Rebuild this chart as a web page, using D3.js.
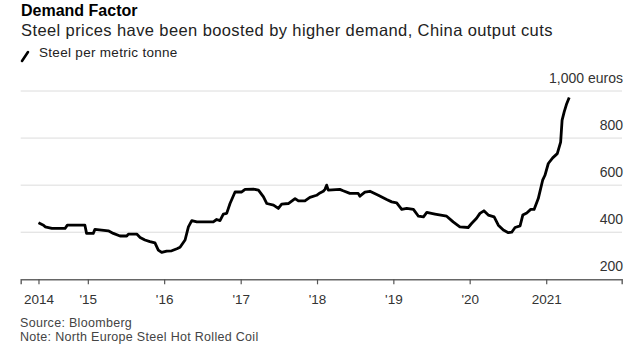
<!DOCTYPE html>
<html>
<head>
<meta charset="utf-8">
<script src="https://cdn.jsdelivr.net/npm/d3@7"></script>
<style>
  body { margin: 0; background: #fff; }
  svg { font-family: "Liberation Sans", Arial, sans-serif; display: block; }
  .grid line { stroke: #dcdcdc; stroke-width: 1; }
  .ylab { fill: #333; font-size: 14px; }
  .xaxis text { fill: #333; font-size: 13.5px; }
  .note { fill: #444; font-size: 12.5px; letter-spacing: 0.3px; }
</style>
</head>
<body>
<script>
// weekly-ish price points (euros per metric tonne)
const dates = ['2014-05-10','2014-06-03','2014-06-11','2014-07-13','2014-09-14','2014-09-25','2014-12-18','2014-12-26',
  '2015-01-27','2015-02-04','2015-03-08','2015-04-09','2015-05-03','2015-06-04','2015-07-06','2015-07-14','2015-08-23',
  '2015-09-08','2015-10-01','2015-10-25','2015-11-18','2015-12-04','2015-12-20',
  '2016-01-13','2016-02-06','2016-03-02','2016-03-17','2016-04-10','2016-04-26','2016-05-12','2016-06-05','2016-08-23',
  '2016-09-08','2016-09-24','2016-10-10','2016-10-26','2016-11-11','2016-12-05',
  '2017-01-06','2017-01-22','2017-03-03','2017-03-27','2017-04-20','2017-05-06','2017-06-07','2017-06-30','2017-07-16',
  '2017-08-17','2017-09-18','2017-10-04','2017-11-04','2017-11-28','2017-12-30',
  '2018-01-15','2018-01-31','2018-02-08','2018-02-16','2018-02-24','2018-04-20','2018-05-06','2018-06-07','2018-07-17',
  '2018-07-25','2018-08-18','2018-09-11','2018-10-21','2018-11-30','2018-12-24',
  '2019-01-17','2019-02-10','2019-03-06','2019-04-07','2019-05-01','2019-05-25','2019-06-10','2019-07-19','2019-09-13',
  '2019-10-14','2019-11-15','2019-12-25',
  '2020-01-10','2020-02-03','2020-02-19','2020-03-09','2020-03-30','2020-04-27','2020-05-17','2020-06-10','2020-07-04',
  '2020-07-20','2020-08-05','2020-08-29','2020-09-11','2020-09-30','2020-10-19','2020-11-04','2020-11-24','2020-12-15',
  '2020-12-26',
  '2021-01-11','2021-02-01','2021-02-23','2021-03-11','2021-03-18','2021-03-28','2021-04-09','2021-04-21']
const prices = [440,430,423,416,416,430,430,395,
  395,412,409,406,395,384,384,392,392,
  378,367,360,355,324,314,
  320,321,330,336,367,423,449,444,444,
  454,449,477,480,522,571,
  571,582,583,579,550,522,515,501,519,
  522,543,533,533,548,557,
  567,574,582,600,579,582,576,565,565,
  553,570,574,557,539,529,
  525,497,501,497,468,465,484,477,468,
  444,423,420,
  437,459,480,491,473,465,430,409,398,
  400,420,427,473,482,497,497,543,621,
  642,
  692,716,734,783,876,911,946,972]

const yTicks = [200, 400, 600, 800, 1000]
const xTickDates = ['2014-05-10','2015-01-01','2016-01-01','2017-01-01','2018-01-01','2019-01-01','2020-01-01','2021-01-01']
const xTickLabels = ['2014', "'15", "'16", "'17", "'18", "'19", "'20", '2021']

const width = 640
const height = 354
const parse = d3.timeParse('%Y-%m-%d')
const data = dates.map((d, i) => ({ date: parse(d), value: prices[i] }))

const x = d3.scaleTime()
  .domain([parse('2014-02-14'), parse('2021-12-28')])
  .range([20.7, 621.7])

const y = d3.scaleLinear()
  .domain([200, 1000])
  .range([279.3, 91])

const svg = d3.select('body')
  .append('svg')
  .attr('width', width)
  .attr('height', height)

// header
svg.append('text')
  .attr('x', 21).attr('y', 16)
  .style('font-size', '16px').style('font-weight', 'bold').attr('fill', '#000')
  .text('Demand Factor')

svg.append('text')
  .attr('x', 21).attr('y', 36)
  .style('font-size', '16.5px').style('letter-spacing', '0.4px').attr('fill', '#222')
  .text('Steel prices have been boosted by higher demand, China output cuts')

svg.append('line')
  .attr('x1', 22).attr('y1', 61).attr('x2', 28).attr('y2', 52)
  .attr('stroke', '#000').attr('stroke-width', 2.6).attr('stroke-linecap', 'round')

svg.append('text')
  .attr('x', 39).attr('y', 57)
  .style('font-size', '13.5px').style('letter-spacing', '0.3px').attr('fill', '#222')
  .text('Steel per metric tonne')

// gridlines + right labels
const grid = svg.append('g').attr('class', 'grid')
grid.selectAll('line')
  .data(yTicks.filter(d => d !== 200))
  .enter()
  .append('line')
  .attr('x1', 20.7).attr('x2', 622)
  .attr('y1', d => y(d)).attr('y2', d => y(d))

svg.append('g')
  .selectAll('text')
  .data(yTicks)
  .enter()
  .append('text')
  .attr('class', 'ylab')
  .attr('x', 623)
  .attr('y', d => y(d) - 8)
  .attr('text-anchor', 'end')
  .text(d => d === 1000 ? '1,000 euros' : d)

// x axis
const xAxis = d3.axisBottom(x)
  .tickValues(xTickDates.map(parse))
  .tickFormat((d, i) => xTickLabels[i])
  .tickSize(5)
  .tickPadding(10)

const gx = svg.append('g')
  .attr('class', 'xaxis')
  .attr('transform', `translate(0,${y(200)})`)
  .call(xAxis)

gx.select('.domain').attr('stroke', '#666').attr('stroke-width', 1.5)
gx.selectAll('.tick line').attr('stroke', '#555').attr('stroke-width', 1.2)
gx.attr('font-family', null).attr('font-size', null)

// line
const line = d3.line()
  .x(d => x(d.date))
  .y(d => y(d.value))

svg.append('path')
  .datum(data)
  .attr('fill', 'none')
  .attr('stroke', '#000')
  .attr('stroke-width', 2.8)
  .attr('stroke-linejoin', 'round')
  .attr('d', line)

// footer
svg.append('text').attr('class', 'note').attr('x', 20).attr('y', 327).text('Source: Bloomberg')
svg.append('text').attr('class', 'note').attr('x', 20).attr('y', 341).text('Note: North Europe Steel Hot Rolled Coil')
</script>
</body>
</html>
